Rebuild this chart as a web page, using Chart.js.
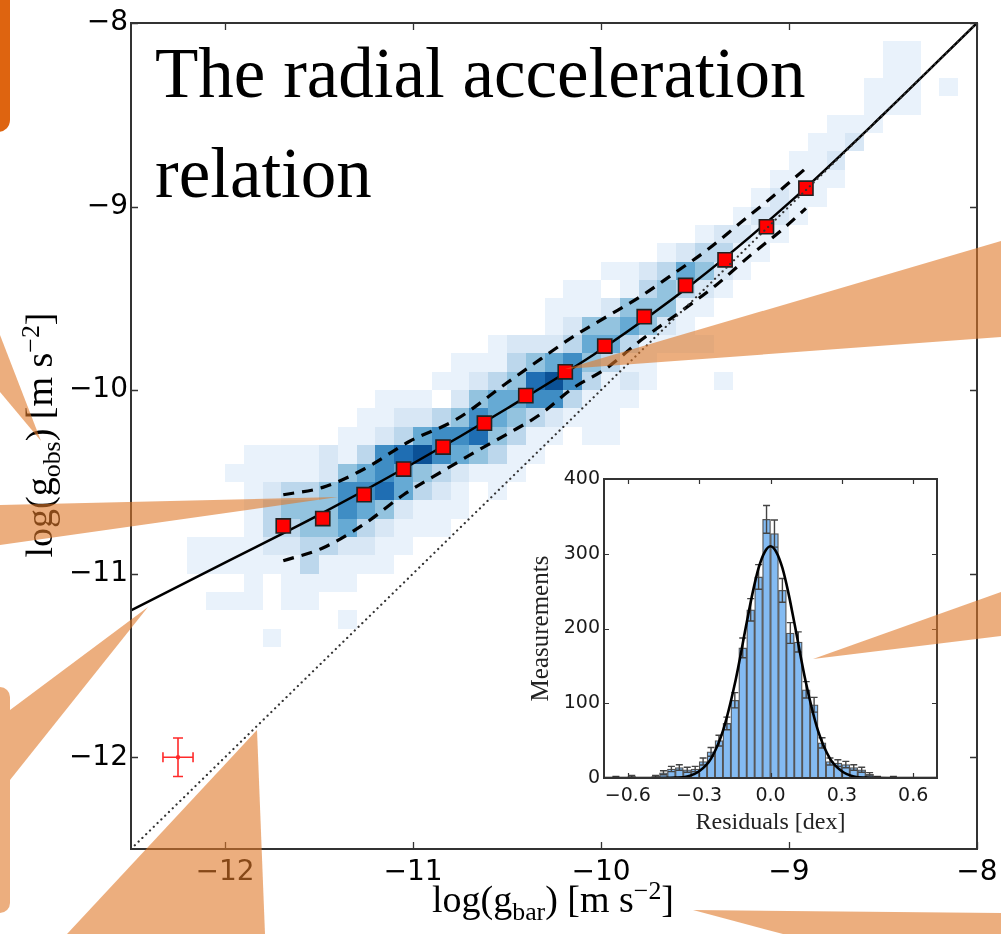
<!DOCTYPE html>
<html>
<head>
<meta charset="utf-8">
<script src="https://cdn.jsdelivr.net/npm/chart.js@4.4.0/dist/chart.umd.min.js"></script>
<style>
  html, body { margin: 0; padding: 0; background: #fff; }
  #wrap { position: relative; width: 1001px; height: 934px; overflow: hidden; }
  #main { position: absolute; left: 0; top: 0; }
  #inset { position: absolute; left: 500px; top: 455px; }
  .lbl { position: absolute; font-family: "Liberation Serif", serif; color: #000; white-space: nowrap; }
  .axt { font-size: 38px; line-height: 38px; height: 38px; width: 400px; text-align: center; }
  #xtitle { left: 353px; top: 880px; }
  #ytitle { left: -161px; top: 416px; transform: rotate(-90deg); transform-origin: 50% 50%; }
  .sub { font-size: 0.68em; position: relative; top: 0.3em; }
  .sup { font-size: 0.68em; position: relative; top: -0.5em; }
  #title { left: 155px; top: 23px; font-size: 71px; line-height: 100px; }
  #deco { position: absolute; left: 0; top: 0; pointer-events: none; }
</style>
</head>
<body>
<div id="wrap">
  <canvas id="main" width="1001" height="934"></canvas>
  <canvas id="inset" width="460" height="400"></canvas>
  <div class="lbl" id="title">The radial acceleration<br>relation</div>
  <div class="lbl axt" id="xtitle">log(g<span class="sub">bar</span>) [m s<span class="sup">&minus;2</span>]</div>
  <div class="lbl axt" id="ytitle">log(g<span class="sub">obs</span>) [m s<span class="sup">&minus;2</span>]</div>
  <svg id="deco" width="1001" height="934">
    <rect x="-30" y="-30" width="40" height="162" rx="12" fill="#de6410"/>
    <g fill="#e07828" opacity="0.6">
      <polygon points="0,335 41,441 0,392"/>
      <polygon points="0,505 338,497 0,545"/>
      <polygon points="565,369 1001,241 1001,337"/>
      <polygon points="813,659 1001,592 1001,636"/>
      <rect x="-20" y="687" width="30" height="226" rx="10"/>
      <polygon points="10,710 148,607 10,780"/>
      <polygon points="257,730 67,934 265,934"/>
      <polygon points="693,910 1001,913 1001,934 783,934"/>
    </g>
  </svg>
</div>
<script>
// main panel: log g_bar vs log g_obs
const xTicks = [-12, -11, -10, -9, -8];
const yTicks = [-12, -11, -10, -9, -8];

const rarX = [-12.5, -12, -11.5, -11, -10.5, -10, -9.5, -9, -8.5, -8];
const rarY = [-11.2, -10.94, -10.68, -10.4, -10.1, -9.78, -9.41, -8.98, -8.5, -8.0];

const upperX = [-11.69, -11.48, -11.26, -11.02, -10.77, -10.5, -10.32, -10.15, -9.97, -9.79, -9.62, -9.44, -9.26, -9.08, -8.92];
const upperY = [-10.57, -10.53, -10.43, -10.28, -10.16, -9.96, -9.83, -9.71, -9.6, -9.49, -9.37, -9.24, -9.09, -8.94, -8.8];
const lowerX = [-11.69, -11.48, -11.26, -11.05, -10.84, -10.64, -10.5, -10.32, -10.15, -9.97, -9.79, -9.56, -9.39, -9.21, -9.03, -8.91];
const lowerY = [-10.93, -10.86, -10.73, -10.57, -10.44, -10.32, -10.24, -10.13, -9.99, -9.88, -9.73, -9.56, -9.43, -9.27, -9.12, -9.01];

const binX = [-11.69, -11.48, -11.26, -11.05, -10.84, -10.62, -10.4, -10.19, -9.98, -9.77, -9.55, -9.34, -9.12, -8.91];
const binY = [-10.74, -10.7, -10.57, -10.43, -10.31, -10.18, -10.03, -9.9, -9.76, -9.6, -9.43, -9.29, -9.11, -8.9];

const diagX = [-12.5, -8];
const diagY = [-12.5, -8];

const errPoint = [-12.25, -12];
const errSize = [0.08, 0.105];

// 2D histogram: [row from top, first column, levels]; cells are 0.1 dex
const heatX0 = -12.5;
const heatY0 = -8;
const heatStep = 0.1;
const heatRows = [
  [1, 40, '11'],
  [2, 40, '11'],
  [3, 39, '11101'],
  [4, 39, '111'],
  [5, 37, '111'],
  [6, 36, '112'],
  [7, 35, '112'],
  [8, 34, '1111'],
  [9, 33, '1211'],
  [10, 32, '1221'],
  [11, 30, '12211'],
  [12, 28, '123311'],
  [13, 25, '11235421'],
  [14, 23, '110134321'],
  [15, 22, '111244411'],
  [16, 22, '12445421'],
  [17, 19, '122235531111'],
  [18, 17, '11134564311'],
  [19, 16, '1123478631210001'],
  [20, 13, '11102455663111'],
  [21, 12, '11223465432111'],
  [22, 11, '112356674311011'],
  [23, 6, '1111213678654311'],
  [24, 5, '1111124565432111'],
  [25, 6, '12334667532101'],
  [26, 6, '134446542111'],
  [27, 6, '13344532111'],
  [28, 3, '111122332211'],
  [29, 3, '11111131111'],
  [30, 6, '101111'],
  [31, 4, '111011'],
  [32, 11, '1'],
  [33, 7, '1']
];
const heatColors = ['#e9f2fb', '#d8e7f5', '#bcd7ec', '#93c3df', '#66aad4', '#3f8dc4', '#1f6eb3', '#0b5196'];

// inset: residual histogram
const insetXTicks = [-0.6, -0.3, 0, 0.3, 0.6];
const insetYTicks = [0, 100, 200, 300, 400];
const histStart = -0.7;
const histWidth = 1 / 30;
const histCounts = [0, 1, 0, 2, 0, 0, 2, 7, 12, 14, 11, 12, 22, 35, 50, 73, 104, 174, 225, 269, 346,
  327, 251, 194, 182, 118, 98, 47, 22, 20, 18, 14, 11, 5, 1, 0, 1, 0, 0, 0, 0, 0];
const histErr = [0, 1, 0, 1.4, 0, 0, 1.4, 2.6, 3.5, 3.7, 3.3, 3.5, 4.7, 5.9, 7.1, 8.5, 10.2, 13.2, 15, 16.4, 18.6,
  18.1, 15.8, 13.9, 13.5, 10.9, 9.9, 6.9, 4.7, 4.5, 4.2, 3.7, 3.3, 2.2, 1, 0, 1, 0, 0, 0, 0, 0];
const gaussX = [-0.7, -0.5, -0.4, -0.35, -0.3, -0.25, -0.2, -0.15, -0.1, -0.075, -0.05, -0.025, 0,
  0.025, 0.05, 0.075, 0.1, 0.15, 0.2, 0.25, 0.3, 0.35, 0.4, 0.5, 0.7];
const gaussY = [0, 0, 0.5, 2, 9, 26, 63, 126, 208, 248, 281, 302, 310,
  302, 281, 248, 208, 126, 63, 26, 9, 2, 0.5, 0, 0];

function toXY(xs, ys) {
  return xs.map((x, i) => ({ x: x, y: ys[i] }));
}

function minus(v, digits) {
  const s = digits === undefined ? String(Math.abs(v)) : Math.abs(v).toFixed(digits);
  return (v < 0 ? '\u2212' : '') + s;
}

// box with inward ticks on all four sides
const framePlugin = {
  id: 'frame',
  afterDraw(chart, args, opts) {
    const { ctx, chartArea: a, scales } = chart;
    ctx.save();
    ctx.strokeStyle = opts.color;
    ctx.beginPath();
    scales.x.ticks.forEach(t => {
      const px = Math.round(scales.x.getPixelForValue(t.value)) + 0.5;
      ctx.moveTo(px, a.bottom); ctx.lineTo(px, a.bottom - opts.tick);
      ctx.moveTo(px, a.top); ctx.lineTo(px, a.top + opts.tick);
    });
    scales.y.ticks.forEach(t => {
      const py = Math.round(scales.y.getPixelForValue(t.value)) + 0.5;
      ctx.moveTo(a.left, py); ctx.lineTo(a.left + opts.tick, py);
      ctx.moveTo(a.right, py); ctx.lineTo(a.right - opts.tick, py);
    });
    ctx.lineWidth = opts.tickWidth;
    ctx.stroke();
    ctx.lineWidth = opts.width;
    ctx.strokeRect(a.left, a.top, a.right - a.left, a.bottom - a.top);
    ctx.restore();
  }
};

const heatPlugin = {
  id: 'heat',
  beforeDatasetsDraw(chart) {
    const { ctx, chartArea: a, scales: { x, y } } = chart;
    ctx.save();
    ctx.beginPath();
    ctx.rect(a.left, a.top, a.right - a.left, a.bottom - a.top);
    ctx.clip();
    heatRows.forEach(([row, col, levels]) => {
      const yTop = Math.round(y.getPixelForValue(heatY0 - row * heatStep));
      const yBot = Math.round(y.getPixelForValue(heatY0 - (row + 1) * heatStep));
      for (let i = 0; i < levels.length; i++) {
        const lv = +levels[i];
        if (!lv) continue;
        const x0 = Math.round(x.getPixelForValue(heatX0 + (col + i) * heatStep));
        const x1 = Math.round(x.getPixelForValue(heatX0 + (col + i + 1) * heatStep));
        ctx.fillStyle = heatColors[lv - 1];
        ctx.fillRect(x0, yTop, x1 - x0, yBot - yTop);
      }
    });
    ctx.restore();
  }
};

const errCrossPlugin = {
  id: 'errCross',
  afterDatasetsDraw(chart) {
    const { ctx, scales: { x, y } } = chart;
    const cx = x.getPixelForValue(errPoint[0]);
    const cy = y.getPixelForValue(errPoint[1]);
    const x0 = x.getPixelForValue(errPoint[0] - errSize[0]);
    const x1 = x.getPixelForValue(errPoint[0] + errSize[0]);
    const y0 = y.getPixelForValue(errPoint[1] + errSize[1]);
    const y1 = y.getPixelForValue(errPoint[1] - errSize[1]);
    const cap = 5;
    ctx.save();
    ctx.strokeStyle = '#ff2a2a';
    ctx.lineWidth = 1.6;
    ctx.beginPath();
    ctx.moveTo(x0, cy); ctx.lineTo(x1, cy);
    ctx.moveTo(cx, y0); ctx.lineTo(cx, y1);
    ctx.moveTo(x0, cy - cap); ctx.lineTo(x0, cy + cap);
    ctx.moveTo(x1, cy - cap); ctx.lineTo(x1, cy + cap);
    ctx.moveTo(cx - cap, y0); ctx.lineTo(cx + cap, y0);
    ctx.moveTo(cx - cap, y1); ctx.lineTo(cx + cap, y1);
    ctx.stroke();
    ctx.fillStyle = '#ff2a2a';
    ctx.beginPath();
    ctx.arc(cx, cy, 2.2, 0, Math.PI * 2);
    ctx.fill();
    ctx.restore();
  }
};

new Chart(document.getElementById('main'), {
  type: 'scatter',
  data: {
    datasets: [
      {
        type: 'line', data: toXY(diagX, diagY), borderColor: '#333', borderWidth: 2.2,
        borderDash: [0.1, 5.2], borderCapStyle: 'round', pointRadius: 0, order: 0
      },
      {
        data: toXY(binX, binY), pointStyle: 'rect', pointRadius: 10,
        backgroundColor: '#ff0000', borderColor: '#222', borderWidth: 1.6, order: 1
      },
      {
        type: 'line', data: toXY(rarX, rarY), borderColor: '#000', borderWidth: 2.5,
        pointRadius: 0, cubicInterpolationMode: 'monotone', order: 2
      },
      {
        type: 'line', data: toXY(upperX, upperY), borderColor: '#000', borderWidth: 3.2,
        borderDash: [11, 8], pointRadius: 0, cubicInterpolationMode: 'monotone', order: 3
      },
      {
        type: 'line', data: toXY(lowerX, lowerY), borderColor: '#000', borderWidth: 3.2,
        borderDash: [11, 8], pointRadius: 0, cubicInterpolationMode: 'monotone', order: 3
      }
    ]
  },
  options: {
    responsive: false,
    animation: false,
    events: [],
    layout: { padding: { left: 0, top: 23, right: 24, bottom: 0 } },
    plugins: {
      legend: { display: false },
      tooltip: { enabled: false },
      frame: { color: '#333', width: 2, tick: 7, tickWidth: 1.3 }
    },
    scales: {
      x: {
        type: 'linear', min: -12.5, max: -8,
        grid: { display: false, drawTicks: false },
        border: { display: false },
        ticks: {
          font: { family: 'DejaVu Sans', size: 28 }, color: '#000', padding: 7,
          maxRotation: 0, callback: v => minus(v)
        },
        afterBuildTicks: s => { s.ticks = xTicks.map(v => ({ value: v })); },
        afterFit: s => { s.height = 85; s.paddingLeft = 0; s.paddingRight = 0; }
      },
      y: {
        type: 'linear', min: -12.5, max: -8,
        grid: { display: false, drawTicks: false },
        border: { display: false },
        ticks: {
          font: { family: 'DejaVu Sans', size: 28 }, color: '#000', padding: 3,
          callback: v => minus(v)
        },
        afterBuildTicks: s => { s.ticks = yTicks.map(v => ({ value: v })); },
        afterFit: s => { s.width = 131; s.paddingTop = 0; s.paddingBottom = 0; }
      }
    }
  },
  plugins: [heatPlugin, errCrossPlugin, framePlugin]
});

// inset
const areaBgPlugin = {
  id: 'areaBg',
  beforeDraw(chart) {
    const { ctx, chartArea: a } = chart;
    ctx.save();
    ctx.fillStyle = '#fff';
    ctx.fillRect(a.left, a.top, a.right - a.left, a.bottom - a.top);
    ctx.restore();
  }
};

const histErrPlugin = {
  id: 'histErr',
  afterDatasetDraw(chart, args) {
    if (args.meta.type !== 'bar') return;
    const { ctx, scales: { y } } = chart;
    ctx.save();
    ctx.strokeStyle = '#444';
    ctx.lineWidth = 1.4;
    ctx.beginPath();
    args.meta.data.forEach((bar, i) => {
      const e = histErr[i];
      if (!e) return;
      const top = y.getPixelForValue(histCounts[i] + e);
      const bot = y.getPixelForValue(histCounts[i] - e);
      ctx.moveTo(bar.x, top); ctx.lineTo(bar.x, bot);
      ctx.moveTo(bar.x - 3.5, top); ctx.lineTo(bar.x + 3.5, top);
      ctx.moveTo(bar.x - 3.5, bot); ctx.lineTo(bar.x + 3.5, bot);
    });
    ctx.stroke();
    ctx.restore();
  }
};

new Chart(document.getElementById('inset'), {
  type: 'bar',
  data: {
    datasets: [
      {
        type: 'line', data: toXY(gaussX, gaussY), borderColor: '#000', borderWidth: 2.6,
        pointRadius: 0, cubicInterpolationMode: 'monotone', order: 0
      },
      {
        type: 'bar',
        data: histCounts.map((c, i) => ({ x: histStart + (i + 0.5) * histWidth, y: c })),
        backgroundColor: '#84bbf2', borderColor: '#555', borderWidth: 1.3,
        borderSkipped: 'bottom', barPercentage: 1, categoryPercentage: 1, order: 1
      }
    ]
  },
  options: {
    responsive: false,
    animation: false,
    events: [],
    layout: { padding: { left: 0, top: 24, right: 23, bottom: 0 } },
    plugins: {
      legend: { display: false },
      tooltip: { enabled: false },
      frame: { color: '#333', width: 2, tick: 5, tickWidth: 1.2 }
    },
    scales: {
      x: {
        type: 'linear', min: -0.7, max: 0.7, offset: false,
        grid: { display: false, drawTicks: false },
        border: { display: false },
        ticks: {
          font: { family: 'DejaVu Sans', size: 19 }, color: '#1a1a1a', padding: 7,
          maxRotation: 0, callback: v => minus(v, 1)
        },
        title: {
          display: true, text: 'Residuals [dex]', color: '#222',
          font: { family: 'Liberation Serif', size: 24 }, padding: { top: 0, bottom: 18 }
        },
        afterBuildTicks: s => { s.ticks = insetXTicks.map(v => ({ value: v })); },
        afterFit: s => { s.height = 77; s.paddingLeft = 0; s.paddingRight = 0; }
      },
      y: {
        type: 'linear', min: 0, max: 400,
        grid: { display: false, drawTicks: false },
        border: { display: false },
        ticks: {
          font: { family: 'DejaVu Sans', size: 19 }, color: '#1a1a1a', padding: 4
        },
        title: {
          display: true, text: 'Measurements', color: '#222',
          font: { family: 'Liberation Serif', size: 25 }, padding: { top: 26, bottom: 0 }
        },
        afterBuildTicks: s => { s.ticks = insetYTicks.map(v => ({ value: v })); },
        afterFit: s => { s.width = 104; s.paddingTop = 0; s.paddingBottom = 0; }
      }
    }
  },
  plugins: [areaBgPlugin, histErrPlugin, framePlugin]
});
</script>
</body>
</html>
